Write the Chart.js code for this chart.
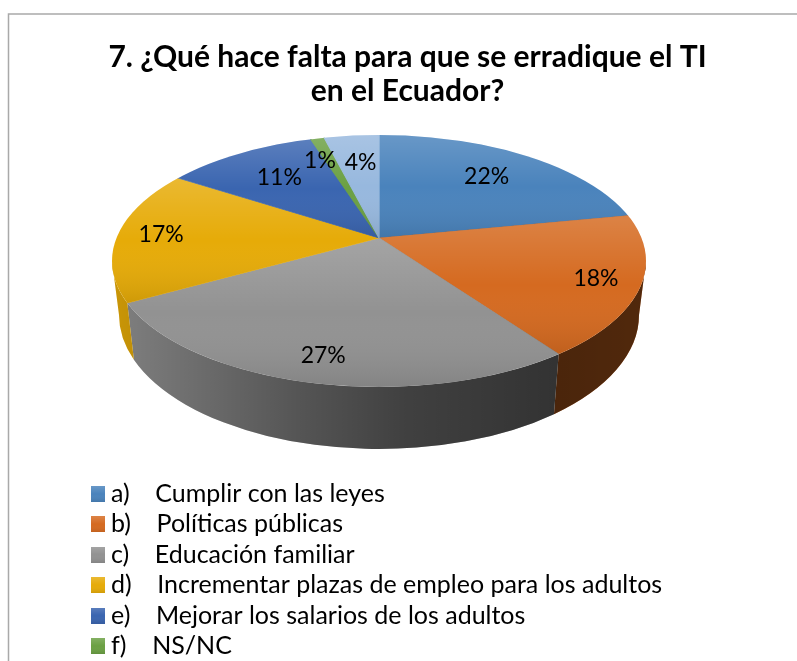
<!DOCTYPE html>
<html><head><meta charset="utf-8">
<style>html,body{margin:0;padding:0;background:#fff;overflow:hidden}canvas{display:block}</style>
<script src="https://cdn.jsdelivr.net/npm/chart.js@4"></script>
</head><body><canvas id="c" width="797" height="661"></canvas>
<script>
const titleLines = ["7. ¿Qué hace falta para que se erradique el TI", "en el Ecuador?"];
const categories = ["a)    Cumplir con las leyes","b)    Políticas públicas","c)    Educación familiar","d)    Incrementar plazas de empleo para los adultos","e)    Mejorar los salarios de los adultos","f)    NS/NC","g)"];
const values = [22,18,27,17,11,1,4];
const colors = ["#4a83bc","#d56a20","#929292","#e6ab08","#3a65b0","#6ba043","#97b8de"];
const labelReach = [0.74,0.83,0.81,0.835,0.715,0.78,0.74];
const labelShiftX = [0,0,0,0,0,-11,2];

const FONT = "Lato, Carlito, Calibri, sans-serif";
const top3d = {x:379,y:261,rx:267,ry:126};
const bot3d = {x:379,y:315,rx:260,ry:134};
const apex = {x:379,y:238};
const K = 0.47, OUT = 430;

function ray(theta){
  const dx=Math.cos(theta), dy=K*Math.sin(theta);
  const ox=apex.x-top3d.x, oy=apex.y-top3d.y;
  const a=dx*dx/(top3d.rx*top3d.rx)+dy*dy/(top3d.ry*top3d.ry);
  const b=2*(ox*dx/(top3d.rx*top3d.rx)+oy*dy/(top3d.ry*top3d.ry));
  const c=ox*ox/(top3d.rx*top3d.rx)+oy*oy/(top3d.ry*top3d.ry)-1;
  const t=(-b+Math.sqrt(b*b-4*a*c))/(2*a);
  const px=apex.x+t*dx, py=apex.y+t*dy;
  return {t,dx,dy,px,py,phi:Math.atan2((py-top3d.y)/top3d.ry,(px-top3d.x)/top3d.rx)};
}
function span(el){
  const a=ray(el.startAngle).phi; let b=ray(el.endAngle).phi;
  while(b<a) b+=Math.PI*2;
  return [a,b];
}
function shade(ctx,y0,y1,x0,x1,stops,horizontal){
  const g=horizontal?ctx.createLinearGradient(x0,0,x1,0):ctx.createLinearGradient(0,y0,0,y1);
  stops.forEach(s=>g.addColorStop(s[0],s[1]));
  return g;
}
const wallStops=[[0,"rgba(0,0,0,.12)"],[0.35,"rgba(0,0,0,.42)"],[0.55,"rgba(0,0,0,.56)"],[0.83,"rgba(0,0,0,.65)"],[1,"rgba(0,0,0,.62)"]];
const faceStops=[[0,"rgba(255,255,255,.17)"],[0.5,"rgba(255,255,255,0)"],[1,"rgba(0,0,0,.1)"]];

const pie3d={
  id:"pie3d",
  beforeDraw(chart){
    const c=chart.ctx;
    c.save();
    c.strokeStyle="#a9a9a9";c.lineWidth=1.5;
    c.beginPath();c.moveTo(8.5,661);c.lineTo(8.5,14);c.lineTo(797,14);c.stroke();
    c.restore();
  },
  afterLayout(chart){
    const L=chart.legend;
    L.left=91.1; L.width=680; L.right=L.left+680; L.top=476.1; L.height=200; L.bottom=L.top+200;
    const T=chart.titleBlock;
    T.left+=9; T.right+=9;
  },
  beforeDatasetsDraw(chart){
    const c=chart.ctx, els=chart.getDatasetMeta(0).data;
    c.save();
    els.forEach((el,i)=>{
      const [a,b]=span(el);
      const ranges=[[a,b],[a-2*Math.PI,b-2*Math.PI]];
      ranges.forEach(([p,q])=>{
        const s=Math.max(p,0), e=Math.min(q,Math.PI);
        if(e<=s) return;
        c.beginPath();
        c.ellipse(top3d.x,top3d.y,top3d.rx,top3d.ry,0,s,e,false);
        c.ellipse(bot3d.x,bot3d.y,bot3d.rx,bot3d.ry,0,e,s,true);
        c.closePath();
        c.fillStyle=colors[i];c.fill();
        c.fillStyle=shade(c,0,0,top3d.x-top3d.rx,top3d.x+top3d.rx,wallStops,true);c.fill();
      });
    });
    const R=els[0].outerRadius, cx=els[0].x, cy=els[0].y, S=OUT/R;
    c.beginPath();c.ellipse(top3d.x,top3d.y,top3d.rx,top3d.ry,0,0,Math.PI*2);c.clip();
    c.translate(apex.x,apex.y);c.scale(S,S*K);c.translate(-cx,-cy);
  },
  afterDatasetsDraw(chart){
    const c=chart.ctx, els=chart.getDatasetMeta(0).data;
    c.restore();
    els.forEach(el=>{
      const [a,b]=span(el);
      let y0=apex.y,y1=apex.y;
      for(let j=0;j<=40;j++){const y=top3d.y+top3d.ry*Math.sin(a+(b-a)*j/40);y0=Math.min(y0,y);y1=Math.max(y1,y);}
      c.beginPath();c.moveTo(apex.x,apex.y);
      c.ellipse(top3d.x,top3d.y,top3d.rx,top3d.ry,0,a,b,false);c.closePath();
      c.fillStyle=shade(c,y0,y1,0,0,faceStops,false);c.fill();
    });
    c.save();
    c.fillStyle="#000";c.textAlign="center";c.textBaseline="middle";c.font="23px "+FONT;
    const total=values.reduce((s,v)=>s+v,0);
    els.forEach((el,i)=>{
      const r=ray((el.startAngle+el.endAngle)/2), t=r.t*labelReach[i];
      c.fillText(Math.round(values[i]/total*100)+"%",apex.x+t*r.dx+labelShiftX[i],apex.y+t*r.dy);
    });
    c.restore();
  }
};
function swatch(col){
  const s=document.createElement("canvas");s.width=15;s.height=16;
  const x=s.getContext("2d");x.fillStyle=col;x.fillRect(0,0,15,16);
  const g=x.createLinearGradient(0,0,0,16);faceStops.forEach(f=>g.addColorStop(f[0],f[1]));
  x.fillStyle=g;x.fillRect(0,0,15,16);
  return s;
}
new Chart(document.getElementById("c"),{
  type:"pie",
  plugins:[pie3d],
  data:{labels:categories,datasets:[{data:values,backgroundColor:colors,borderColor:colors,borderWidth:0.6}]},
  options:{
    responsive:false,animation:false,
    events:[],
    layout:{padding:0},
    plugins:{
      tooltip:{enabled:false},
      title:{display:true,text:titleLines,color:"#000",font:{family:FONT,size:30,weight:"bold",lineHeight:1.15},padding:{top:40,bottom:10}},
      legend:{display:true,position:"left",align:"start",
        labels:{
          color:"#000",font:{family:FONT,size:25},boxWidth:2,padding:5.4,usePointStyle:true,
          generateLabels(){return categories.map((t,i)=>({text:t,index:i,datasetIndex:0,pointStyle:swatch(colors[i]),fillStyle:colors[i],strokeStyle:colors[i],lineWidth:0,fontColor:"#000"})).filter(it=>it.index<6);}
        }
      }
    }
  }
});
</script></body></html>
